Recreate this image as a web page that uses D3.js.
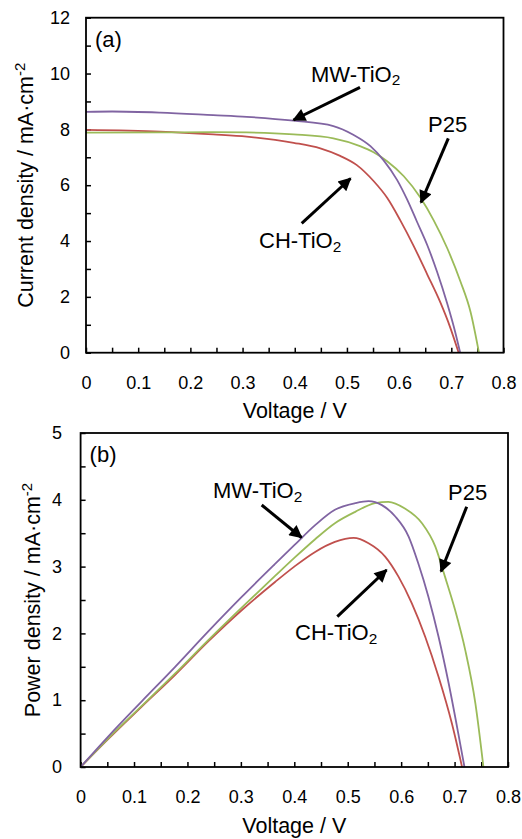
<!DOCTYPE html>
<html>
<head>
<meta charset="utf-8">
<script src="https://cdn.jsdelivr.net/npm/d3@7"></script>
<style>
  html, body { margin: 0; padding: 0; background: #fff; }
  svg { display: block; font-family: "Liberation Sans", Arial, sans-serif; }
</style>
</head>
<body>
<svg id="chart" width="522" height="839"></svg>
<script>
// ---- data: [voltage V, value] ----
const jvMW = [[0,8.63],[0.05,8.64],[0.142,8.60],[0.244,8.51],[0.308,8.45],[0.398,8.31],[0.474,8.12],
  [0.513,7.80],[0.545,7.40],[0.570,6.90],[0.596,6.19],[0.615,5.50],[0.634,4.70],[0.654,3.85],
  [0.673,2.88],[0.692,1.77],[0.708,0.70],[0.717,0]];
const jvP25 = [[0,7.88],[0.142,7.89],[0.244,7.90],[0.308,7.89],[0.398,7.82],[0.474,7.68],[0.525,7.40],
  [0.551,7.18],[0.577,6.86],[0.609,6.32],[0.641,5.55],[0.666,4.75],[0.692,3.75],[0.7175,2.55],
  [0.737,1.45],[0.753,0]];
const jvCH = [[0,7.98],[0.142,7.92],[0.244,7.82],[0.308,7.74],[0.398,7.52],[0.449,7.32],[0.487,7.05],
  [0.519,6.72],[0.551,6.15],[0.577,5.55],[0.602,4.75],[0.628,3.82],[0.654,2.80],[0.679,1.80],
  [0.698,0.90],[0.714,0]];

const pvMW = [[0,0],[0.052,0.46],[0.114,0.98],[0.177,1.50],[0.239,2.03],[0.302,2.55],[0.364,3.04],
  [0.400,3.32],[0.439,3.62],[0.476,3.85],[0.514,3.95],[0.539,3.98],[0.564,3.92],[0.589,3.75],
  [0.614,3.45],[0.632,3.05],[0.651,2.55],[0.670,1.95],[0.689,1.25],[0.707,0.50],[0.7185,0]];
const pvP25 = [[0,0],[0.052,0.43],[0.114,0.91],[0.177,1.40],[0.239,1.90],[0.302,2.39],[0.364,2.86],
  [0.400,3.13],[0.439,3.41],[0.476,3.65],[0.514,3.82],[0.551,3.95],[0.576,3.97],[0.607,3.87],
  [0.639,3.65],[0.664,3.30],[0.682,2.85],[0.701,2.35],[0.720,1.75],[0.739,0.95],[0.754,0]];
const pvCH = [[0,0],[0.052,0.42],[0.114,0.90],[0.177,1.38],[0.239,1.88],[0.302,2.35],[0.364,2.77],
  [0.400,3.00],[0.439,3.22],[0.476,3.37],[0.511,3.43],[0.539,3.35],[0.570,3.15],[0.595,2.85],
  [0.620,2.45],[0.645,1.95],[0.670,1.35],[0.695,0.65],[0.714,0]];

const xTickLabels = [0, 0.1, 0.2, 0.3, 0.4, 0.5, 0.6, 0.7, 0.8];
const jTickLabels = [0, 2, 4, 6, 8, 10, 12];
const pTickLabels = [0, 1, 2, 3, 4, 5];

const colors = { CH: "#c0504d", P25: "#9bbb59", MW: "#8064a2" };

const svg = d3.select("#chart");

const defs = svg.append("defs");
defs.append("marker")
    .attr("id", "head")
    .attr("viewBox", "0 0 10 10")
    .attr("refX", 9).attr("refY", 5)
    .attr("markerUnits", "userSpaceOnUse")
    .attr("markerWidth", 15).attr("markerHeight", 13)
    .attr("orient", "auto")
  .append("path")
    .attr("d", "M0,0 L10,5 L0,10 Z")
    .attr("fill", "#000");

// text with a subscript/superscript piece
function richText(g, x, y, parts, size, anchor) {
  const t = g.append("text")
      .attr("x", x).attr("y", y)
      .attr("font-size", size)
      .attr("text-anchor", anchor || "start")
      .attr("fill", "#000");
  parts.forEach(p => {
    const s = t.append("tspan").text(p.t);
    if (p.sub) s.attr("font-size", size * 0.7).attr("dy", size * 0.16);
    else if (p.sup) s.attr("font-size", size * 0.7).attr("dy", -size * 0.38);
  });
  return t;
}

function drawPanel(cfg) {
  const g = svg.append("g");
  const x = d3.scaleLinear().domain([0, 0.8]).range([cfg.left, cfg.right]);
  const y = d3.scaleLinear().domain([0, cfg.ymax]).range([cfg.bottom, cfg.top]);

  // inward tick marks
  g.append("g")
      .attr("transform", `translate(0,${cfg.bottom})`)
      .call(d3.axisBottom(x).tickValues(d3.range(0, 0.8001, 0.05)).tickSizeInner(-5).tickSizeOuter(0).tickFormat(""))
      .call(a => a.select(".domain").remove())
      .call(a => a.selectAll("line").attr("stroke-width", 1.5));
  g.append("g")
      .attr("transform", `translate(${cfg.left},0)`)
      .call(d3.axisLeft(y).tickValues(d3.range(0, cfg.ymax + 0.001, cfg.minor)).tickSizeInner(-5).tickSizeOuter(0).tickFormat(""))
      .call(a => a.select(".domain").remove())
      .call(a => a.selectAll("line").attr("stroke-width", 1.5));

  // tick labels
  g.append("g")
      .attr("transform", `translate(0,${cfg.bottom})`)
      .call(d3.axisBottom(x).tickValues(xTickLabels).tickSize(0).tickPadding(cfg.xPad).tickFormat(d3.format("")))
      .call(a => a.select(".domain").remove())
      .call(a => a.selectAll("text").attr("font-size", 18).attr("font-family", "Liberation Sans, Arial, sans-serif").attr("fill", "#000"));
  g.append("g")
      .attr("transform", `translate(${cfg.left},0)`)
      .call(d3.axisLeft(y).tickValues(cfg.yLabels).tickSize(0).tickPadding(cfg.yPad).tickFormat(d3.format("")))
      .call(a => a.select(".domain").remove())
      .call(a => a.selectAll("text").attr("font-size", 18).attr("font-family", "Liberation Sans, Arial, sans-serif").attr("fill", "#000"));

  // curves
  const line = d3.line().x(d => x(d[0])).y(d => y(d[1])).curve(d3.curveMonotoneX);
  cfg.series.forEach(s => {
    g.append("path")
        .datum(s.data)
        .attr("d", line)
        .attr("fill", "none")
        .attr("stroke", s.color)
        .attr("stroke-width", 1.8);
  });

  // frame
  g.append("rect")
      .attr("x", cfg.left).attr("y", cfg.top)
      .attr("width", cfg.right - cfg.left).attr("height", cfg.bottom - cfg.top)
      .attr("fill", "none").attr("stroke", "#000").attr("stroke-width", 1.8);

  // panel letter
  g.append("text")
      .attr("x", cfg.left + 9).attr("y", cfg.top + 29)
      .attr("font-size", 22).text(cfg.letter);

  // axis titles
  g.append("text")
      .attr("x", (cfg.left + cfg.right) / 2).attr("y", cfg.bottom + cfg.xTitleDy)
      .attr("text-anchor", "middle").attr("font-size", 21.5).text("Voltage / V");
  const yt = g.append("g")
      .attr("transform", `translate(${cfg.yTitleX},${(cfg.top + cfg.bottom) / 2}) rotate(-90)`);
  richText(yt, 0, 0, [{ t: cfg.yTitle + " / mA·cm" }, { t: "-2", sup: true }], 21.5, "middle");

  // annotations
  cfg.notes.forEach(n => {
    g.append("line")
        .attr("x1", n.from[0]).attr("y1", n.from[1])
        .attr("x2", n.to[0]).attr("y2", n.to[1])
        .attr("stroke", "#000").attr("stroke-width", 3)
        .attr("marker-end", "url(#head)");
    if (n.sub) richText(g, n.at[0], n.at[1], [{ t: n.label }, { t: "2", sub: true }], 22);
    else richText(g, n.at[0], n.at[1], [{ t: n.label }], 22);
  });
}

drawPanel({
  left: 86, right: 503.5, top: 17.7, bottom: 352.7,
  ymax: 12, minor: 1, yLabels: jTickLabels,
  xPad: 24, yPad: 16, xTitleDy: 65, yTitleX: 33,
  yTitle: "Current density", letter: "(a)",
  series: [
    { data: jvCH, color: colors.CH },
    { data: jvP25, color: colors.P25 },
    { data: jvMW, color: colors.MW }
  ],
  notes: [
    { label: "MW-TiO", sub: true, at: [311, 81.5], from: [360, 87.3], to: [293.5, 120] },
    { label: "P25", at: [428, 131.5], from: [448.3, 138.3], to: [421, 202.5] },
    { label: "CH-TiO", sub: true, at: [259, 248.3], from: [301.7, 223.3], to: [350.5, 178.5] }
  ]
});

drawPanel({
  left: 80.6, right: 508, top: 433, bottom: 767,
  ymax: 5, minor: 0.5, yLabels: pTickLabels,
  xPad: 23, yPad: 18.6, xTitleDy: 66, yTitleX: 40,
  yTitle: "Power density", letter: "(b)",
  series: [
    { data: pvCH, color: colors.CH },
    { data: pvP25, color: colors.P25 },
    { data: pvMW, color: colors.MW }
  ],
  notes: [
    { label: "MW-TiO", sub: true, at: [213, 498.3], from: [261.7, 505], to: [301.5, 537.5] },
    { label: "P25", at: [448, 500], from: [466.7, 506.7], to: [441, 571.5] },
    { label: "CH-TiO", sub: true, at: [295, 640], from: [337.3, 616.7], to: [386.5, 570] }
  ]
});
</script>
</body>
</html>
